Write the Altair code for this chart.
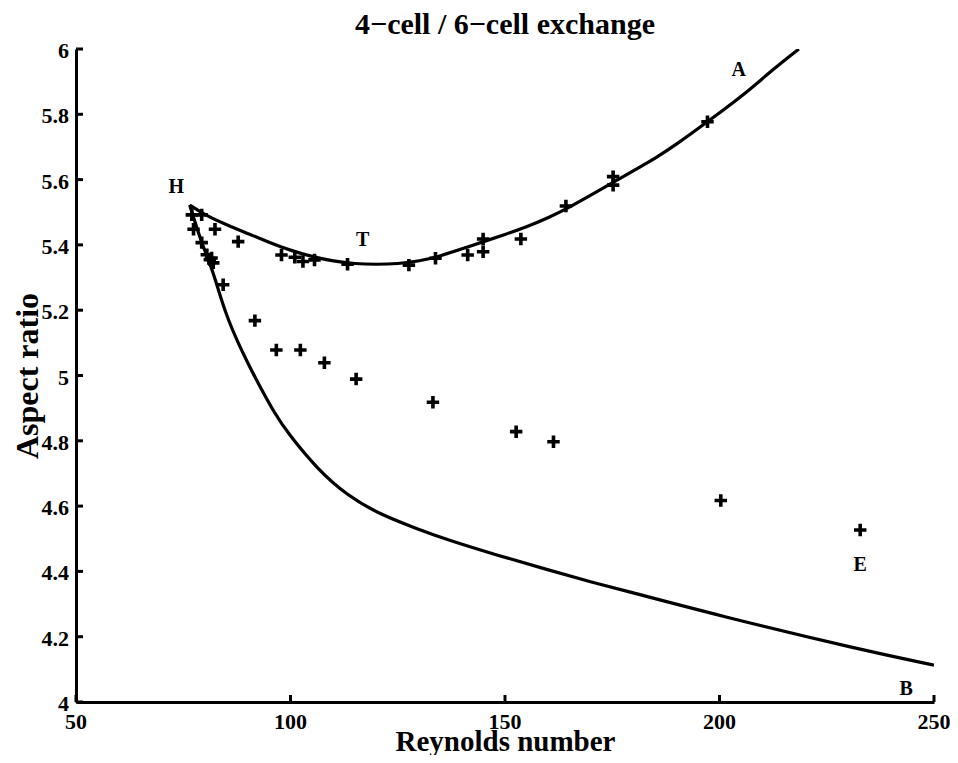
import altair as alt
import pandas as pd

# ---------------- data ----------------
X_DOMAIN = [50, 250]
Y_DOMAIN = [4, 6]
x_ticks = [50, 100, 150, 200, 250]
x_tick_labels = ["50", "100", "150", "200", "250"]
y_ticks = [4, 4.2, 4.4, 4.6, 4.8, 5, 5.2, 5.4, 5.6, 5.8, 6]
y_tick_labels = ["4", "4.2", "4.4", "4.6", "4.8", "5", "5.2", "5.4", "5.6", "5.8", "6"]

# upper branch H -> T -> A
upper_re = [76.5, 80, 85, 90, 95, 100, 105, 110, 115, 120, 125, 130, 135, 140,
            145, 150, 155, 160, 165, 170, 175, 180, 185, 190, 197.2, 206.1, 212.3, 218.5]
upper_ar = [5.522, 5.492, 5.462, 5.435, 5.408, 5.383, 5.364, 5.350, 5.342, 5.340,
            5.342, 5.350, 5.366, 5.388, 5.410, 5.432, 5.455, 5.482, 5.515, 5.552,
            5.590, 5.628, 5.665, 5.708, 5.777, 5.864, 5.936, 6.0]

# lower branch H -> B
lower_re = [76.5, 79.3, 81.2, 82.5, 83.9, 85.5, 87.8, 90.1, 92.5, 96.3, 99.4, 106.4,
            113.3, 120.3, 129.6, 136.5, 148.1, 159.7, 171.3, 176.0, 200.0, 233.2, 250.0]
lower_ar = [5.522, 5.405, 5.344, 5.293, 5.231, 5.170, 5.099, 5.037, 4.975, 4.884, 4.823,
            4.711, 4.632, 4.578, 4.530, 4.497, 4.450, 4.406, 4.363, 4.348, 4.264, 4.159, 4.113]

# '+' markers
cross_re = [77.0, 79.3, 77.4, 82.4, 79.3, 87.8, 80.5, 81.2, 82.0, 81.6, 97.9, 101.0,
            102.9, 105.6, 113.3, 127.6, 133.8, 141.3, 144.9, 144.9, 153.7, 164.2,
            175.2, 175.2, 197.2,
            84.3, 91.7, 96.7, 102.3, 107.9, 115.3, 133.2, 152.6, 161.3, 200.3, 232.8]
cross_ar = [5.492, 5.492, 5.448, 5.448, 5.407, 5.410, 5.370, 5.355, 5.345, 5.360, 5.369,
            5.362, 5.349, 5.354, 5.341, 5.338, 5.359, 5.369, 5.418, 5.379, 5.418, 5.519,
            5.609, 5.583, 5.777,
            5.278, 5.168, 5.078, 5.078, 5.039, 4.989, 4.918, 4.828, 4.797, 4.617, 4.527]

label_text = ["H", "T", "A", "E", "B"]
label_re = [73.4, 116.8, 204.5, 232.8, 243.5]
label_ar = [5.577, 5.415, 5.936, 4.420, 4.040]

# ---------------- chart ----------------
FONT = "Liberation Serif, Times New Roman, serif"
W, H = 858, 653
TICK = 7

curves = pd.DataFrame({
    "Re": upper_re + lower_re,
    "AR": upper_ar + lower_ar,
    "branch": ["upper"] * len(upper_re) + ["lower"] * len(lower_re),
    "idx": list(range(len(upper_re))) + list(range(len(lower_re))),
})
crosses = pd.DataFrame({"Re": cross_re, "AR": cross_ar})
labels = pd.DataFrame({"Re": label_re, "AR": label_ar, "txt": label_text})
xt = pd.DataFrame({"v": x_ticks, "lab": x_tick_labels})
yt = pd.DataFrame({"v": y_ticks, "lab": y_tick_labels})

xs = alt.Scale(domain=X_DOMAIN, nice=False, zero=False)
ys = alt.Scale(domain=Y_DOMAIN, nice=False, zero=False)

x_axis = alt.Axis(
    values=x_ticks, labels=False, grid=False,
    ticks=False, tickSize=0, domain=True, domainWidth=3, domainColor="black",
    title="Reynolds number", titleFont=FONT, titleFontSize=29,
    titleFontWeight="bold", titleColor="black", titleX=W / 2, titleY=48,
    titleBaseline="alphabetic", titleAlign="center")
y_axis = alt.Axis(
    values=y_ticks, labels=False, grid=False,
    ticks=False, tickSize=0, domain=True, domainWidth=3, domainColor="black",
    title="Aspect ratio", titleFont=FONT, titleFontSize=32,
    titleFontWeight="bold", titleColor="black", titleAngle=-90,
    titleX=-39, titleY=H / 2, titleBaseline="alphabetic", titleAlign="center")

lines = alt.Chart(curves).mark_line(
    color="black", strokeWidth=3.2, interpolate="basis", clip=True
).encode(
    x=alt.X("Re:Q", scale=xs, axis=x_axis),
    y=alt.Y("AR:Q", scale=ys, axis=y_axis),
    detail="branch:N",
    order="idx:Q",
)

pts = alt.Chart(crosses).mark_point(
    shape="M-1,0H1M0,-1V1", filled=False, color="black",
    strokeWidth=3.6, size=155, opacity=1
).encode(
    x=alt.X("Re:Q", scale=xs),
    y=alt.Y("AR:Q", scale=ys),
)

txt = alt.Chart(labels).mark_text(
    font=FONT, fontSize=20, fontWeight="bold", color="black",
    align="center", baseline="middle"
).encode(
    x=alt.X("Re:Q", scale=xs),
    y=alt.Y("AR:Q", scale=ys),
    text="txt:N",
)

# inward ticks (MATLAB style), placed through the scales
xticks_in = alt.Chart(xt).mark_rule(color="black", strokeWidth=3).encode(
    x=alt.X("v:Q", scale=xs),
    y=alt.value(H), y2=alt.value(H - TICK),
)
yticks_in = alt.Chart(yt).mark_rule(color="black", strokeWidth=3).encode(
    y=alt.Y("v:Q", scale=ys),
    x=alt.value(0), x2=alt.value(TICK),
)

# tick labels (serif bold, as in the reference)
xlab = alt.Chart(xt).mark_text(
    font=FONT, fontSize=22, fontWeight="bold", color="black",
    align="center", baseline="top", dy=10
).encode(
    x=alt.X("v:Q", scale=xs),
    y=alt.value(H),
    text="lab:N",
)
ylab = alt.Chart(yt).mark_text(
    font=FONT, fontSize=22, fontWeight="bold", color="black",
    align="right", baseline="middle", dx=-7, dy=2
).encode(
    y=alt.Y("v:Q", scale=ys),
    x=alt.value(0),
    text="lab:N",
)

chart = alt.layer(lines, pts, txt, xticks_in, yticks_in, xlab, ylab).properties(
    width=W, height=H,
    title=alt.Title("4−cell / 6−cell exchange", font=FONT, fontSize=30,
                    fontWeight="bold", color="black", anchor="middle",
                    frame="group", baseline="alphabetic", offset=6, dy=30),
    padding={"left": 68, "top": 41, "right": 16, "bottom": 53},
    autosize=alt.AutoSizeParams(type="none"),
    background="white",
).configure(
    font=FONT
).configure_view(stroke=None)

chart.save("out.html", embed_options={"renderer": "svg", "actions": False})
